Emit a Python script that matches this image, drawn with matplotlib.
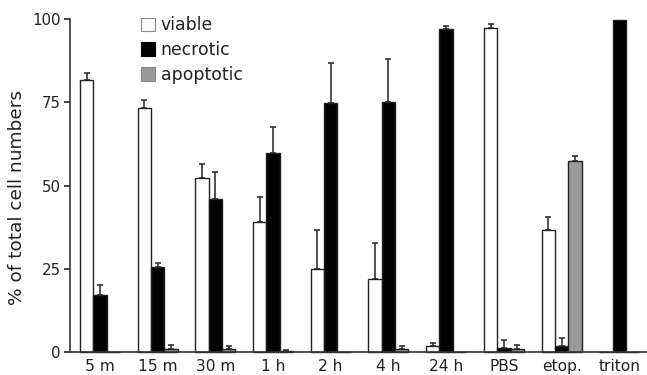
import numpy as np
import matplotlib
matplotlib.use('Agg')
import matplotlib.pyplot as plt
from matplotlib.patches import Patch

# ------------------------------------------------------------
# data
# ------------------------------------------------------------
groups = ['5 m', '15 m', '30 m', '1 h', '2 h', '4 h', '24 h', 'PBS', 'etop.', 'triton']

viable = [81.7, 73.2, 52.4, 39.0, 24.9, 22.0, 1.9, 97.4, 36.7, 0.0]
viable_err = [2.0, 2.6, 4.1, 7.5, 11.8, 10.8, 1.0, 1.1, 3.8, 0.0]

necrotic = [17.2, 25.7, 46.1, 59.7, 74.7, 75.2, 97.0, 1.4, 1.9, 99.6]
necrotic_err = [3.0, 1.2, 8.1, 7.8, 12.2, 12.7, 1.0, 2.3, 2.5, 0.0]

apoptotic = [0.0, 1.0, 1.0, 0.5, 0.0, 1.0, 0.0, 0.9, 57.4, 0.0]
apoptotic_err = [0.0, 1.2, 1.0, 0.3, 0.0, 0.9, 0.0, 1.3, 1.5, 0.0]

series_names = ['viable', 'necrotic', 'apoptotic']
colors = ['white', 'black', '#9a9a9a']

plt.rcParams['font.family'] = ['DejaVu Sans']
txt = '#222222'

fig = plt.figure(figsize=(6.47, 3.75), dpi=100)
ax = fig.add_axes([0.108, 0.0605, 0.892, 0.889])

x = np.arange(len(groups))
w = 0.231
edge = '#222222'

all_vals = [viable, necrotic, apoptotic]
all_errs = [viable_err, necrotic_err, apoptotic_err]
for k, (vals, errs) in enumerate(zip(all_vals, all_errs)):
    pos = x + (k - 1) * w
    ax.bar(pos, vals, width=w, color=colors[k], edgecolor=edge,
           linewidth=1.0, clip_on=False, zorder=2)
    # one sided error bars, only where there is an error
    vals = np.array(vals)
    errs = np.array(errs)
    m = errs > 0
    ax.errorbar(pos[m], vals[m], yerr=[np.zeros(m.sum()), errs[m]],
                fmt='none', ecolor='#333333', elinewidth=1.2, capsize=2.5,
                capthick=1.2, clip_on=False, zorder=1)

ax.set_xlim(-0.52, 9.48)
ax.set_ylim(0, 100)
ax.set_yticks([0, 25, 50, 75, 100])
ax.set_xticks(x)
ax.set_xticklabels(groups)
ax.tick_params(axis='x', length=0, pad=4.5, labelsize=11.2, colors=txt)
ax.tick_params(axis='y', length=4, width=1.2, direction='out', pad=2.5,
               labelsize=10.8, colors=txt)
fig.text(17.5 / 647, 1 - 197.5 / 375, '% of total cell numbers', rotation=90,
         ha='center', va='center', fontsize=13.3, color=txt)

for s in ['top', 'right']:
    ax.spines[s].set_visible(False)
for s in ['left', 'bottom']:
    ax.spines[s].set_linewidth(1.2)
    ax.spines[s].set_color('#333333')

handles = [Patch(facecolor=colors[i], edgecolor='#888888' if i != 1 else 'black',
                 linewidth=0.8) for i in range(3)]
fig.legend(handles, series_names, loc='upper left', bbox_to_anchor=(0.218, 0.957),
           frameon=False, fontsize=12.4, handlelength=0.8, handleheight=0.8,
           handletextpad=0.35, labelspacing=0.4, borderpad=0, borderaxespad=0,
           labelcolor=txt)

plt.savefig('out.png', dpi=100)
